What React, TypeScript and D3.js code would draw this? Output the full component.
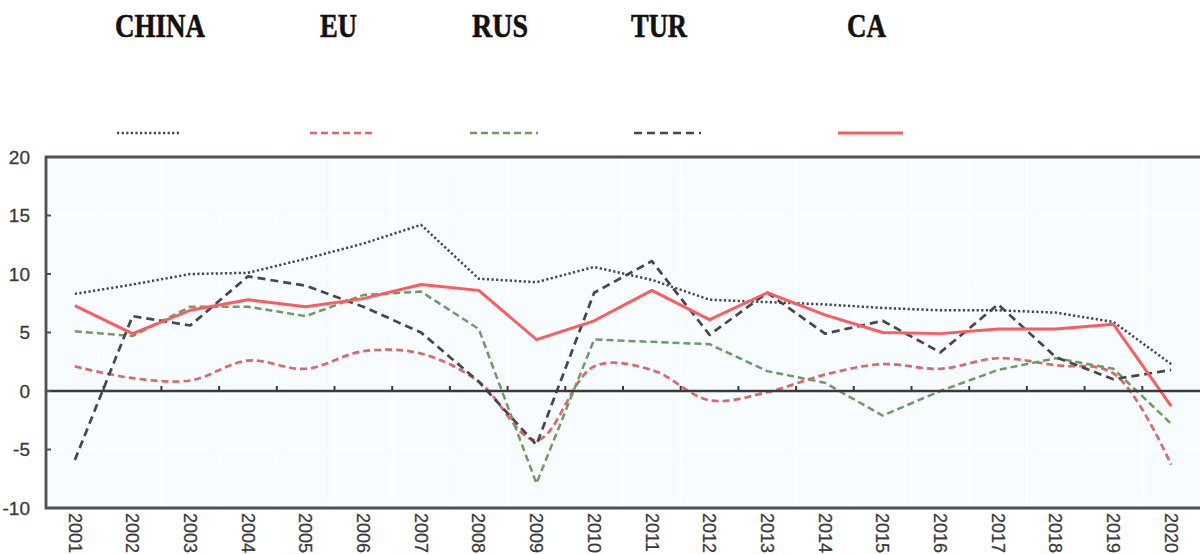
import React, { useRef, useEffect } from 'react';
import * as d3 from 'd3';

const years = ['2001', '2002', '2003', '2004', '2005', '2006', '2007', '2008', '2009', '2010',
	'2011', '2012', '2013', '2014', '2015', '2016', '2017', '2018', '2019', '2020'];

const china = [8.3, 9.1, 10.0, 10.1, 11.3, 12.6, 14.2, 9.6, 9.3, 10.6, 9.5, 7.8, 7.6, 7.4, 7.1, 6.9, 6.9, 6.7, 5.9, 2.3];
const eu = [2.1, 1.1, 0.9, 2.6, 1.9, 3.4, 3.2, 0.8, -4.2, 2.1, 1.8, -0.8, -0.1, 1.4, 2.3, 1.9, 2.8, 2.2, 1.5, -6.3];
const rus = [5.1, 4.7, 7.2, 7.2, 6.4, 8.2, 8.5, 5.3, -7.9, 4.4, 4.2, 4.0, 1.7, 0.7, -2.1, 0.0, 1.8, 2.8, 1.9, -2.8];
const tur = [-5.9, 6.4, 5.6, 9.8, 9.0, 7.2, 5.0, 0.8, -4.6, 8.4, 11.1, 4.8, 8.4, 4.9, 6.0, 3.3, 7.4, 2.9, 1.0, 1.8];
const ca = [7.3, 4.9, 6.9, 7.8, 7.2, 7.9, 9.1, 8.6, 4.4, 6.0, 8.6, 6.1, 8.4, 6.5, 5.0, 4.9, 5.3, 5.3, 5.7, -1.3];

const yTicks = [-10, -5, 0, 5, 10, 15, 20];

const seriesNames = ['CHINA', 'EU', 'RUS', 'TUR', 'CA'];

const App: React.FC = () => {
	const svgRef = useRef<SVGSVGElement | null>(null);

	useEffect(() => {
		if (!svgRef.current) return;
		const width = 1200, height = 554;
		const left = 46, right = 1200, top = 157, bottom = 508;

		const svg = d3.select(svgRef.current)
			.attr('width', width)
			.attr('height', height);
		svg.selectAll('*').remove();

		const x = d3.scaleBand().domain(years).range([left, right]).padding(0);
		const y = d3.scaleLinear().domain([-10, 20]).range([bottom, top]);
		const cx = (d: string) => (x(d) as number) + x.bandwidth() / 2;

		// plot background
		svg.append('rect')
			.attr('x', left).attr('y', top)
			.attr('width', right - left).attr('height', bottom - top)
			.attr('fill', '#f6fcff');

		// faint grid
		const grid = svg.append('g').attr('stroke', '#ffffff').attr('stroke-width', 1.5);
		grid.selectAll('line.v')
			.data(years.slice(1))
			.join('line')
			.attr('class', 'v')
			.attr('x1', d => x(d) as number).attr('x2', d => x(d) as number)
			.attr('y1', top).attr('y2', bottom);
		grid.selectAll('line.h')
			.data(yTicks.slice(1, -1))
			.join('line')
			.attr('class', 'h')
			.attr('x1', left).attr('x2', right)
			.attr('y1', d => y(d)).attr('y2', d => y(d));

		// series
		const series = [
			{ name: 'CHINA', values: china, color: '#3f4552', dash: '2.2,2.4', width: 2.5, curve: d3.curveLinear },
			{ name: 'EU', values: eu, color: '#e0666a', dash: '7,4', width: 2.7, curve: d3.curveCatmullRom.alpha(0.5) },
			{ name: 'RUS', values: rus, color: '#6f9a60', dash: '7,4', width: 2.5, curve: d3.curveLinear },
			{ name: 'TUR', values: tur, color: '#474747', dash: '8,5', width: 2.7, curve: d3.curveLinear },
			{ name: 'CA', values: ca, color: '#ff5a5f', dash: null as string | null, width: 2.9, curve: d3.curveLinear },
		];

		const lineFor = (curve: any) => d3.line<number>()
			.x((_, i) => cx(years[i]))
			.y(d => y(d))
			.curve(curve);

		series.forEach(s => {
			svg.append('path')
				.datum(s.values)
				.attr('fill', 'none')
				.attr('stroke', s.color)
				.attr('stroke-width', s.width)
				.attr('stroke-dasharray', s.dash)
				.attr('stroke-linejoin', 'round')
				.attr('d', lineFor(s.curve));
		});

		// zero line with ticks
		svg.append('line')
			.attr('x1', left).attr('x2', right)
			.attr('y1', y(0)).attr('y2', y(0))
			.attr('stroke', '#3a3a3a').attr('stroke-width', 2.6);
		svg.append('g')
			.selectAll('line')
			.data(years.slice(1))
			.join('line')
			.attr('x1', d => x(d) as number).attr('x2', d => x(d) as number)
			.attr('y1', y(0)).attr('y2', y(0) - 5)
			.attr('stroke', '#3a3a3a').attr('stroke-width', 2);

		// frame
		svg.append('path')
			.attr('d', `M${right},${top}H${left}V${bottom}H${right}`)
			.attr('fill', 'none')
			.attr('stroke', '#505050')
			.attr('stroke-width', 2.8);

		// y axis ticks and labels
		const yAxis = svg.append('g');
		yAxis.selectAll('line')
			.data(yTicks)
			.join('line')
			.attr('x1', left).attr('x2', left + 5)
			.attr('y1', d => y(d)).attr('y2', d => y(d))
			.attr('stroke', '#505050').attr('stroke-width', 2);
		yAxis.selectAll('text')
			.data(yTicks)
			.join('text')
			.attr('x', 30)
			.attr('y', d => y(d))
			.attr('dy', '0.35em')
			.attr('text-anchor', 'end')
			.attr('font-family', '"Liberation Sans", Arial, sans-serif')
			.attr('font-size', 19)
			.attr('fill', '#3a3a3a')
			.attr('stroke', '#3a3a3a')
			.attr('stroke-width', 0.3)
			.text(d => d);

		// x labels, rotated
		svg.append('g')
			.selectAll('text')
			.data(years)
			.join('text')
			.attr('transform', d => `translate(${cx(d)},${bottom + 5}) rotate(90)`)
			.attr('dy', '0.35em')
			.attr('text-anchor', 'start')
			.attr('font-family', '"Liberation Sans", Arial, sans-serif')
			.attr('font-size', 18)
			.attr('fill', '#3a3a3a')
			.attr('stroke', '#3a3a3a')
			.attr('stroke-width', 0.3)
			.text(d => d);

		// legend: names on top row, samples below
		const legendText = [
			{ x: 115, w: 90 },
			{ x: 320, w: 37 },
			{ x: 472, w: 56 },
			{ x: 631, w: 56 },
			{ x: 847, w: 39 },
		];
		const legendLine = [
			{ x1: 117, x2: 181 },
			{ x1: 310, x2: 376 },
			{ x1: 470, x2: 538 },
			{ x1: 634, x2: 701 },
			{ x1: 838, x2: 903 },
		];
		const legend = svg.append('g');
		seriesNames.forEach((name, i) => {
			legend.append('text')
				.attr('x', legendText[i].x)
				.attr('y', 37)
				.attr('font-family', '"Liberation Serif", "DejaVu Serif", serif')
				.attr('font-weight', 'bold')
				.attr('font-size', 33)
				.attr('textLength', legendText[i].w)
				.attr('lengthAdjust', 'spacingAndGlyphs')
				.attr('fill', '#111')
				.attr('stroke', '#111')
				.attr('stroke-width', 0.6)
				.text(name);
			const s = series[i];
			legend.append('line')
				.attr('x1', legendLine[i].x1).attr('x2', legendLine[i].x2)
				.attr('y1', 133).attr('y2', 133)
				.attr('stroke', s.color)
				.attr('stroke-width', s.width)
				.attr('stroke-dasharray', s.dash);
		});
	}, []);

	return (
		<svg ref={svgRef} style={{ position: 'absolute', left: 0, top: 0, display: 'block' }} />
	);
};

export default App;
